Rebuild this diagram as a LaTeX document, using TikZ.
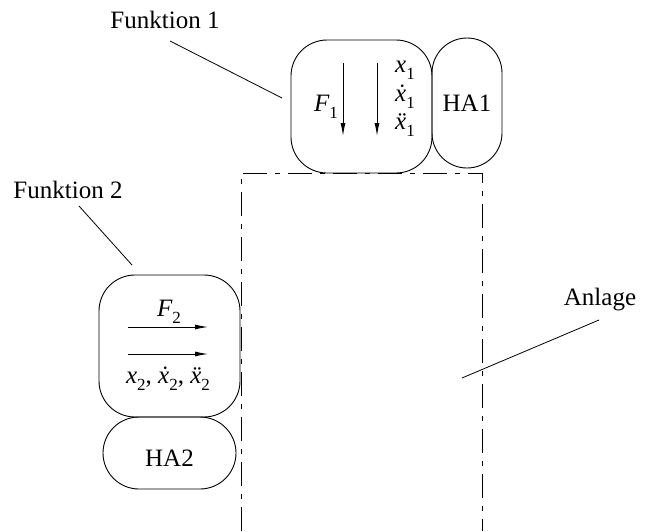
\documentclass[tikz,border=0pt]{standalone}
\usepackage{fontspec}
\setmainfont{Liberation Serif}
\usetikzlibrary{arrows.meta}
% italic variable with a lowered index in the serif text face
\newcommand\idx[1]{\raisebox{-0.28em}{\fontsize{17}{17}\selectfont #1}}
\newcommand\vx{\textit{x}}
% dot / double dot placed over an italic x
\newcommand\overmark[1]{\ooalign{\vx\cr\hidewidth\kern0.12em\textup{#1}\hidewidth\cr}}
\newcommand\dvx{\overmark{\char"02D9}}
\newcommand\ddvx{\overmark{\char"00A8}}
\begin{document}
\begin{tikzpicture}[x=1pt,y=-1pt,
  lbl/.style={font=\fontsize{25}{28}\selectfont, inner sep=0pt},
  blob/.style={draw, line width=0.9pt, rounded corners=36pt, inner sep=0pt},
  lead/.style={line width=0.8pt},
  arr/.style={line width=0.9pt, -{Latex[length=13pt,width=5pt]}},
  frame/.style={line width=1pt, dash pattern=on 24pt off 8pt on 5pt off 8pt}]
\useasboundingbox (0,0) rectangle (646,531);

% function block 1 and its attachment element
\node[blob, minimum width=141pt, minimum height=133pt] (f1) at (361.5,106.5) {};
\node[blob, minimum width=70pt, minimum height=130pt, rounded corners=35pt] (ha1) at (467,103) {};
\node[lbl] (ha1t) at (467,103) {HA1};
\node[lbl] (F1) at (326,107) {\textit{F}\idx{1}};
\coordinate (a1s) at (343,63);  \coordinate (a1e) at (343,136);
\coordinate (a2s) at (377,63);  \coordinate (a2e) at (377,136);
\draw[arr] (a1s) -- (a1e);
\draw[arr] (a2s) -- (a2e);
\node[lbl, align=left, font=\fontsize{25}{28.5}\selectfont] (x1) at (405,99)
  {\vx\idx{1}\\ \dvx\idx{1}\\ \ddvx\idx{1}};

% function block 2 and its attachment element
\node[blob, minimum width=141pt, minimum height=142pt] (f2) at (169.5,346) {};
\node[blob, minimum width=133pt, minimum height=72pt] (ha2) at (169.5,453) {};
\node[lbl] (ha2t) at (169.5,458) {HA2};
\node[lbl] (F2) at (169,312) {\textit{F}\idx{2}};
\coordinate (b1s) at (128,327);  \coordinate (b1e) at (208,327);
\coordinate (b2s) at (128,354);  \coordinate (b2e) at (208,354);
\draw[arr] (b1s) -- (b1e);
\draw[arr] (b2s) -- (b2e);
\node[lbl] (x2) at (168,381) {\vx\idx{2}, \dvx\idx{2}, \ddvx\idx{2}};

% plant boundary (open at the bottom)
\coordinate (pbl) at (241,531);
\coordinate (ptl) at (241,173);
\coordinate (ptr) at (482,173);
\coordinate (pbr) at (482,531);
\draw[frame] (pbl) -- (ptl) -- (ptr) -- (pbr);

% callout labels
\node[lbl] (fk1) at (165,20) {Funktion 1};
\coordinate (fk1e) at (282,98);
\draw[lead] (170,41) -- (fk1e);
\node[lbl] (fk2) at (68,190) {Funktion 2};
\coordinate (fk2e) at (132,265);
\draw[lead] (79,206) -- (fk2e);
\node[lbl] (anl) at (600,300) {Anlage};
\coordinate (anle) at (462,378);
\draw[lead] (599,320) -- (anle);
\end{tikzpicture}
\end{document}
